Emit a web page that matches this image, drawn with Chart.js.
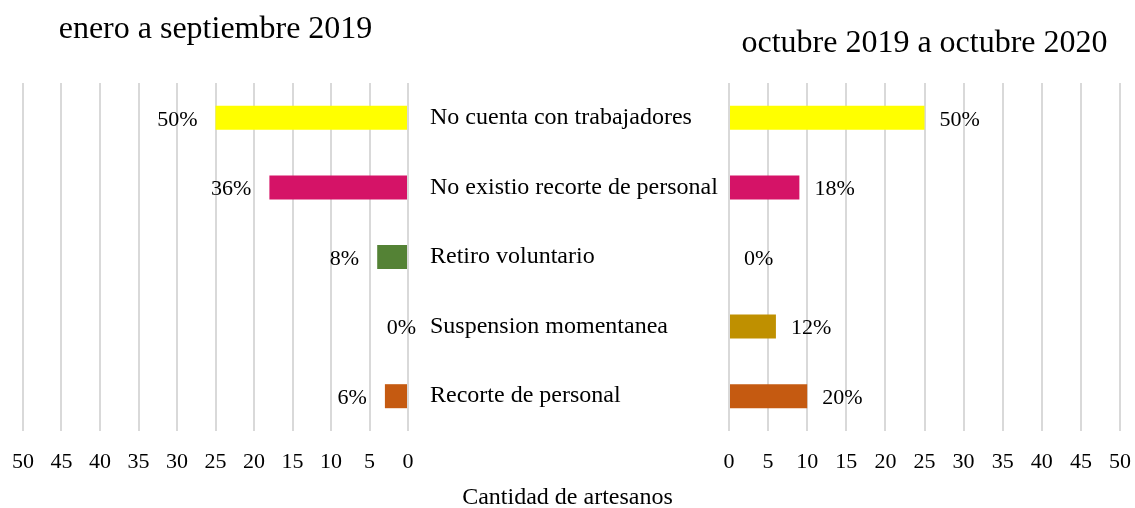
<!DOCTYPE html>
<html>
<head>
<meta charset="utf-8">
<script src="https://cdn.jsdelivr.net/npm/chart.js@4.4.1/dist/chart.umd.min.js"></script>
<style>
html,body{margin:0;padding:0;background:#fff;}
#wrap{position:relative;width:1135px;height:508px;overflow:hidden;background:#fff;}
canvas{position:absolute;left:0;top:0;}
</style>
</head>
<body>
<div id="wrap">
<canvas id="leftChart" width="1135" height="508"></canvas>
<canvas id="rightChart" width="1135" height="508"></canvas>
</div>
<script>
// ---- data ----
const categories = [
  "No cuenta con trabajadores",
  "No existio recorte de personal",
  "Retiro voluntario",
  "Suspension momentanea",
  "Recorte de personal"
];
const leftValues  = [25, 18, 4, 0, 3];   // enero a septiembre 2019
const rightValues = [25, 9, 0, 6, 10];   // octubre 2019 a octubre 2020
const barColors = ["#FFFF00", "#D51367", "#548235", "#BF9000", "#C55A11"];
const axisTicks = [0, 5, 10, 15, 20, 25, 30, 35, 40, 45, 50];
const leftTitle = "enero a septiembre 2019";
const rightTitle = "octubre 2019 a octubre 2020";
const axisTitle = "Cantidad de artesanos";

// ---- styling ----
const FAMILY = "'Liberation Serif', 'Times New Roman', serif";
const GRID = '#d9d9d9';

const pctLabels = {
  id: 'pctLabels',
  afterDatasetsDraw(chart, args, opts) {
    const ctx = chart.ctx;
    const ds = chart.data.datasets[0];
    const total = ds.data.reduce((a, b) => a + b, 0);
    const meta = chart.getDatasetMeta(0);
    ctx.save();
    ctx.font = opts.size + 'px ' + FAMILY;
    ctx.fillStyle = '#000';
    ctx.textBaseline = 'middle';
    meta.data.forEach((bar, i) => {
      const v = ds.data[i];
      const txt = Math.round(v / total * 100) + '%';
      let x;
      if (opts.side === 'left') {
        ctx.textAlign = 'right';
        x = v === 0 ? bar.x + opts.zeroGap : bar.x - opts.gap;
      } else {
        ctx.textAlign = 'left';
        x = bar.x + opts.gap;
      }
      ctx.fillText(txt, x, bar.y + opts.dy);
    });
    ctx.restore();
  }
};

function setTicks(scale) {
  scale.ticks = axisTicks.map(v => ({ value: v }));
}

function xScale(reverse, height) {
  return {
    type: 'linear',
    reverse: reverse,
    min: 0,
    max: 50,
    afterBuildTicks: setTicks,
    afterFit: s => { s.height = height; s.paddingLeft = 0; s.paddingRight = 0; },
    grid: { color: GRID, lineWidth: 2, drawTicks: false },
    border: { display: false },
    ticks: { padding: 18, color: '#000', font: { family: FAMILY, size: 22 }, maxRotation: 0 }
  };
}

// Left panel: carries the category labels (y axis on its right) and the shared axis title
new Chart(document.getElementById('leftChart'), {
  type: 'bar',
  data: {
    labels: categories,
    datasets: [{
      data: leftValues,
      backgroundColor: barColors,
      borderWidth: 0,
      barPercentage: 0.345,
      categoryPercentage: 1
    }]
  },
  plugins: [pctLabels],
  options: {
    indexAxis: 'y',
    responsive: false,
    animation: false,
    layout: { padding: { left: 23, right: 23, top: 0, bottom: 0 } },
    scales: {
      x: xScale(true, 56.6),
      y: {
        position: 'right',
        afterFit: s => { s.width = 704; },
        grid: { display: false, drawTicks: false },
        border: { display: false },
        ticks: { crossAlign: 'near', padding: 22, color: '#000', font: { family: FAMILY, size: 24 } }
      }
    },
    plugins: {
      legend: { display: false },
      tooltip: { enabled: false },
      title: {
        display: true,
        fullSize: false,
        text: leftTitle,
        color: '#000',
        font: { family: FAMILY, size: 32, weight: 'normal' },
        padding: { top: 10, bottom: 34.6 }
      },
      subtitle: {
        display: true,
        position: 'bottom',
        fullSize: true,
        text: axisTitle,
        color: '#000',
        font: { family: FAMILY, size: 24, weight: 'normal', lineHeight: 0.85 },
        padding: 0
      },
      pctLabels: { side: 'left', gap: 18, zeroGap: 8, dy: 2, size: 22 }
    }
  }
});

// Right panel
new Chart(document.getElementById('rightChart'), {
  type: 'bar',
  data: {
    labels: categories,
    datasets: [{
      data: rightValues,
      backgroundColor: barColors,
      borderWidth: 0,
      barPercentage: 0.345,
      categoryPercentage: 1
    }]
  },
  plugins: [pctLabels],
  options: {
    indexAxis: 'y',
    responsive: false,
    animation: false,
    layout: { padding: { left: 729, right: 15, top: 0, bottom: 0 } },
    scales: {
      x: xScale(false, 77),
      y: { display: false }
    },
    plugins: {
      legend: { display: false },
      tooltip: { enabled: false },
      title: {
        display: true,
        fullSize: false,
        text: rightTitle,
        color: '#000',
        font: { family: FAMILY, size: 32, weight: 'normal' },
        padding: { top: 24.5, bottom: 20.1 }
      },
      pctLabels: { side: 'right', gap: 15, dy: 2, size: 22 }
    }
  }
});
</script>
</body>
</html>
